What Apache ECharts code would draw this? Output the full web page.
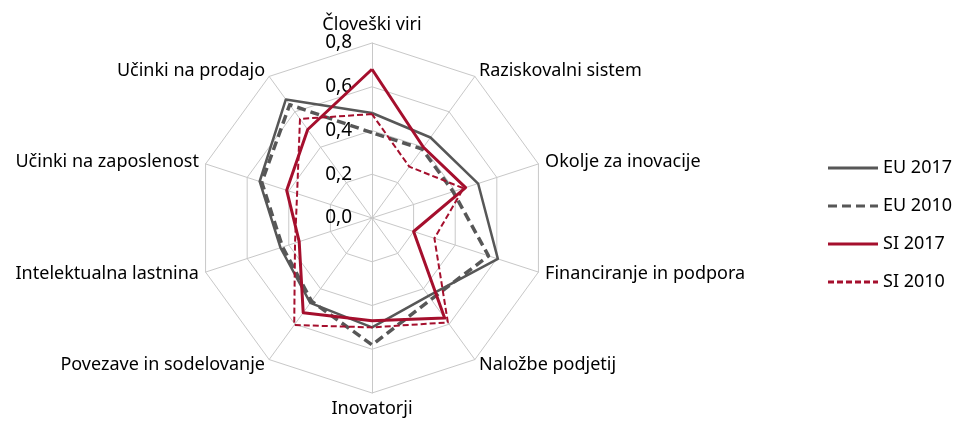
<!DOCTYPE html>
<html>
<head>
<meta charset="utf-8">
<script src="https://cdn.jsdelivr.net/npm/echarts@6/dist/echarts.min.js"></script>
<style>
  html, body { margin: 0; padding: 0; background: #fff; }
  #main { width: 954px; height: 423px; }
</style>
</head>
<body>
<div id="main"></div>
<script>
// kazalniki, v smeri proti urinemu kazalcu od vrha (tako jih riše ECharts)
var indicators = [
    'Človeški viri',
    'Učinki na prodajo',
    'Učinki na zaposlenost',
    'Intelektualna lastnina',
    'Povezave in sodelovanje',
    'Inovatorji',
    'Naložbe podjetij',
    'Financiranje in podpora',
    'Okolje za inovacije',
    'Raziskovalni sistem'
];
var seriesNames = ['EU 2017', 'EU 2010', 'SI 2017', 'SI 2010'];
var eu2017 = [0.48, 0.67, 0.54, 0.44, 0.48, 0.50, 0.44, 0.605, 0.51, 0.455];
var eu2010 = [0.39, 0.64, 0.53, 0.43, 0.47, 0.58, 0.46, 0.56, 0.39, 0.39];
var si2017 = [0.68, 0.50, 0.41, 0.35, 0.535, 0.47, 0.565, 0.20, 0.45, 0.40];
var si2010 = [0.475, 0.56, 0.36, 0.37, 0.605, 0.50, 0.59, 0.30, 0.44, 0.29];
var axisMax = 0.8;

var gray = '#575757';
var red = '#A50F2D';

var myChart = echarts.init(document.getElementById('main'));

var solidIcon = 'path://M0,0H50V3H0Z';
var grayDash = 'path://M0,0H9V3H0Z M14,0H23V3H14Z M28,0H37V3H28Z M42,0H50V3H42Z';
var redDash = 'path://M0,0H6V3H0Z M9,0H15V3H9Z M18,0H24V3H18Z M27,0H33V3H27Z M36,0H42V3H36Z M45,0H50V3H45Z';

var option = {
    backgroundColor: '#fff',
    textStyle: { fontFamily: 'Noto Sans' },
    legend: {
        orient: 'vertical',
        left: 823,
        top: 154,
        itemWidth: 50,
        itemHeight: 3,
        itemGap: 20,
        textStyle: { fontSize: 18, color: '#000', padding: [0, 0, 0, 0] },
        data: [
            { name: seriesNames[0], icon: solidIcon },
            { name: seriesNames[1], icon: grayDash },
            { name: seriesNames[2], icon: solidIcon },
            { name: seriesNames[3], icon: redDash }
        ]
    },
    radar: {
        center: [372, 218],
        radius: 175,
        startAngle: 90,
        shape: 'polygon',
        splitNumber: 4,
        nameGap: 7,
        axisName: { color: '#000', fontSize: 18 },
        axisLine: { lineStyle: { color: '#c8c8c8', width: 1 } },
        splitLine: { lineStyle: { color: '#c8c8c8', width: 1 } },
        splitArea: { show: false },
        indicator: indicators.map(function (n, i) {
            var ind = { name: n, min: 0, max: axisMax };
            if (i === 0) {
                ind.axisLabel = {
                    show: true,
                    fontSize: 19,
                    color: '#000',
                    margin: 20,
                    formatter: function (v) { return v.toFixed(1).replace('.', ','); }
                };
            }
            return ind;
        })
    },
    series: [{
        type: 'radar',
        symbol: 'none',
        silent: true,
        data: [
            { name: seriesNames[0], value: eu2017,
              lineStyle: { color: gray, width: 2.5, type: 'solid' }, itemStyle: { color: gray } },
            { name: seriesNames[1], value: eu2010,
              lineStyle: { color: gray, width: 3.5, type: [9, 5] }, itemStyle: { color: gray } },
            { name: seriesNames[2], value: si2017,
              lineStyle: { color: red, width: 3, type: 'solid' }, itemStyle: { color: red } },
            { name: seriesNames[3], value: si2010,
              lineStyle: { color: red, width: 2, type: [6, 3] }, itemStyle: { color: red } }
        ]
    }]
};
myChart.setOption(option);
</script>
</body>
</html>
